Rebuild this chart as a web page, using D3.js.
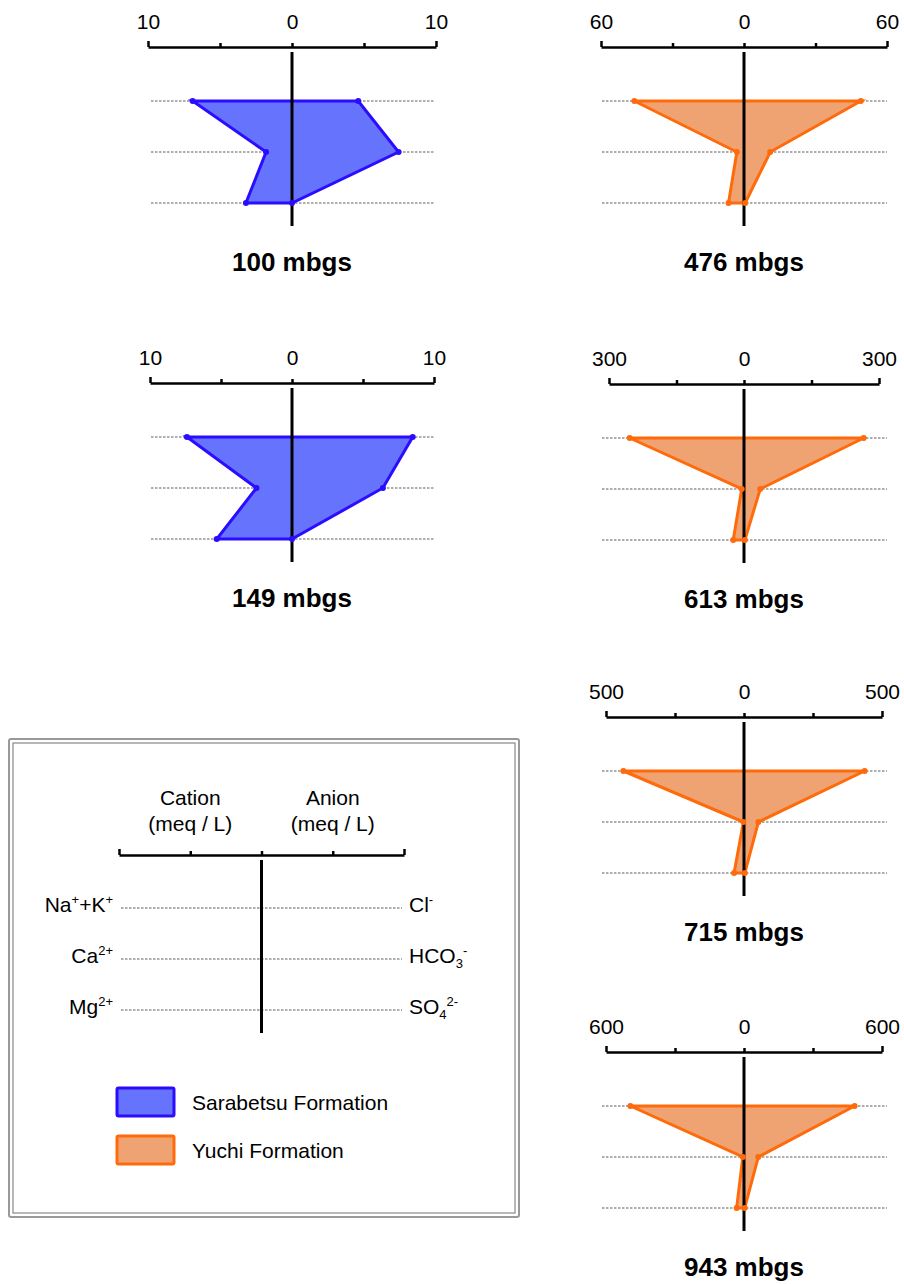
<!DOCTYPE html>
<html><head><meta charset="utf-8">
<script src="https://cdn.jsdelivr.net/npm/d3@7"></script>
<style>body{margin:0;background:#fff;}svg{display:block;font-family:"Liberation Sans",Arial,sans-serif;}</style>
</head><body><svg id="c" width="904" height="1284"></svg>
<script>
// ---- data ----
const depths = ["100 mbgs","149 mbgs","476 mbgs","613 mbgs","715 mbgs","943 mbgs"];
const formations = ["Sarabetsu","Sarabetsu","Yuchi","Yuchi","Yuchi","Yuchi"];
const axisMax = [10,10,60,300,500,600];
const cations = ["Na+K","Ca","Mg"];
const anions = ["Cl","HCO3","SO4"];
// cation values (Na+K, Ca, Mg) in meq/L
const cationVals = [
  [6.9,1.8,3.2],
  [7.4,2.5,5.3],
  [46,3,6.5],
  [254,5,24],
  [437,2,36],
  [494,5,32]
];
// anion values (Cl, HCO3, SO4) in meq/L
const anionVals = [
  [4.6,7.4,0],
  [8.5,6.4,0],
  [49,11,0.5],
  [266,36,2],
  [437,52,3],
  [481,62,3]
];
const legendNames = ["Sarabetsu Formation","Yuchi Formation"];

// ---- layout/style ----
const colors = {
  Sarabetsu:{fill:"#6673fc",stroke:"#2a0dff"},
  Yuchi:{fill:"#efa373",stroke:"#ff6a0a"}
};
const layout = [
  {cx:292,half:144,ay:47,dl:151,dr:435},
  {cx:292,half:142,ay:383,dl:151,dr:435},
  {cx:744,half:143,ay:47,dl:602,dr:887},
  {cx:744,half:135,ay:384,dl:602,dr:887},
  {cx:744,half:138,ay:717,dl:602,dr:887},
  {cx:744,half:138,ay:1052,dl:602,dr:887}
];
const rowOff = [54,105,156];
const FS = 21;

const svg = d3.select("#c");

depths.forEach((d,i)=>{
  const L = layout[i], m = axisMax[i];
  const g = svg.append("g");
  const x = d3.scaleLinear().domain([-m,m]).range([L.cx-L.half,L.cx+L.half]);
  const y = d3.scalePoint().domain([0,1,2]).range([L.ay+rowOff[0],L.ay+rowOff[2]]);
  // dashed lines
  g.selectAll("line.dash").data([0,1,2]).join("line")
    .attr("x1",L.dl).attr("x2",L.dr).attr("y1",k=>y(k)).attr("y2",k=>y(k))
    .attr("stroke","#333").attr("stroke-width",0.8).attr("stroke-dasharray","2.5,1.5");
  // top axis
  const ax = d3.axisTop(x).tickValues([-m,-m/2,0,m/2,m]).tickSize(0).tickFormat("");
  const ag = g.append("g").attr("transform",`translate(0,${L.ay})`).call(ax);
  ag.select(".domain").attr("stroke","#000").attr("stroke-width",2.5);
  ag.selectAll(".tick line").attr("y2",d=>Math.abs(d)===m?-6:-4).attr("stroke","#000").attr("stroke-width",2.5);
  ag.selectAll(".tick").filter(v=>v===-m||v===0||v===m).append("text")
    .attr("y",-18).attr("fill","#000").attr("font-size",FS).attr("text-anchor","middle")
    .text(v=>Math.abs(v));
  // polygon
  const cv = cationVals[i], av = anionVals[i];
  const pts = [
    [x(-cv[0]),y(0)],[x(av[0]),y(0)],[x(av[1]),y(1)],[x(av[2]),y(2)],
    [x(-cv[2]),y(2)],[x(-cv[1]),y(1)]
  ];
  const c = colors[formations[i]];
  g.append("path").attr("d",d3.line()(pts)+"Z")
    .attr("fill",c.fill).attr("stroke",c.stroke).attr("stroke-width",3).attr("stroke-linejoin","miter");
  // center line
  g.append("line").attr("x1",x(0)).attr("x2",x(0)).attr("y1",L.ay+5).attr("y2",L.ay+rowOff[2]+23)
    .attr("stroke","#000").attr("stroke-width",3);
  g.selectAll("circle").data(pts).join("circle")
    .attr("cx",p=>p[0]).attr("cy",p=>p[1]).attr("r",3).attr("fill",c.stroke);
  // title
  g.append("text").attr("x",L.cx).attr("y",L.ay+224).attr("text-anchor","middle")
    .attr("font-size",26).attr("font-weight","bold").text(d);
});

// ---- legend box ----
const lg = svg.append("g");
lg.append("rect").attr("x",9).attr("y",739).attr("width",510).attr("height",478).attr("rx",2)
  .attr("fill","#fff").attr("stroke","#999").attr("stroke-width",2);
lg.append("rect").attr("x",13).attr("y",743).attr("width",502).attr("height",470)
  .attr("fill","none").attr("stroke","#888").attr("stroke-width",1.2);

const lx = d3.scaleLinear().domain([-1,1]).range([119,404]);
const ly = d3.scalePoint().domain([0,1,2]).range([908,1010]);
lg.selectAll("line.ld").data([0,1,2]).join("line")
  .attr("x1",121).attr("x2",402).attr("y1",k=>ly(k)).attr("y2",k=>ly(k))
  .attr("stroke","#333").attr("stroke-width",0.8).attr("stroke-dasharray","2.5,1.5");
const lax = lg.append("g").attr("transform","translate(0,855)")
  .call(d3.axisTop(lx).tickValues([-1,-0.5,0,0.5,1]).tickSize(0).tickFormat(""));
lax.select(".domain").attr("stroke","#000").attr("stroke-width",2.5);
lax.selectAll(".tick line").attr("y2",v=>Math.abs(v)===1?-6:-4).attr("stroke","#000").attr("stroke-width",2.5);
lg.append("line").attr("x1",lx(0)).attr("x2",lx(0)).attr("y1",860).attr("y2",1033)
  .attr("stroke","#000").attr("stroke-width",3);

[["Cation",-0.5],["Anion",0.5]].forEach(([t,v])=>{
  const tx = lg.append("text").attr("x",lx(v)).attr("text-anchor","middle").attr("font-size",FS);
  tx.append("tspan").attr("x",lx(v)).attr("y",805).text(t);
  tx.append("tspan").attr("x",lx(v)).attr("y",831).text("(meq / L)");
});

const catLabels = [["Na","+","+K","+"],["Ca","2+"],["Mg","2+"]];
const anLabels = [[["Cl",""],["-","sup"]],[["HCO",""],["3","sub"],["-","sup"]],[["SO",""],["4","sub"],["2-","sup"]]];
catLabels.forEach((parts,k)=>{
  const t = lg.append("text").attr("x",113).attr("y",ly(k)+4).attr("text-anchor","end").attr("font-size",FS);
  parts.forEach((p,j)=>{
    const s = t.append("tspan").text(p);
    if(j%2===1){ s.attr("dy",-8).attr("font-size",13); }
    else if(j>0){ s.attr("dy",8); }
  });
});
anLabels.forEach((parts,k)=>{
  const t = lg.append("text").attr("x",409).attr("y",ly(k)+4).attr("font-size",FS);
  let cur = 0;
  parts.forEach(([p,kind])=>{
    const s = t.append("tspan").text(p);
    let target = kind==="sup"?-8:kind==="sub"?5:0;
    s.attr("dy",target-cur); cur=target;
    if(kind) s.attr("font-size",13);
  });
});

// legend swatches
const fk = ["Sarabetsu","Yuchi"];
legendNames.forEach((n,k)=>{
  const yy = 1088 + k*48;
  lg.append("rect").attr("x",117).attr("y",yy).attr("width",57).attr("height",28).attr("rx",1.5)
    .attr("fill",colors[fk[k]].fill).attr("stroke",colors[fk[k]].stroke).attr("stroke-width",3);
  lg.append("text").attr("x",192).attr("y",yy+22).attr("font-size",FS).text(n);
});
</script></body></html>
